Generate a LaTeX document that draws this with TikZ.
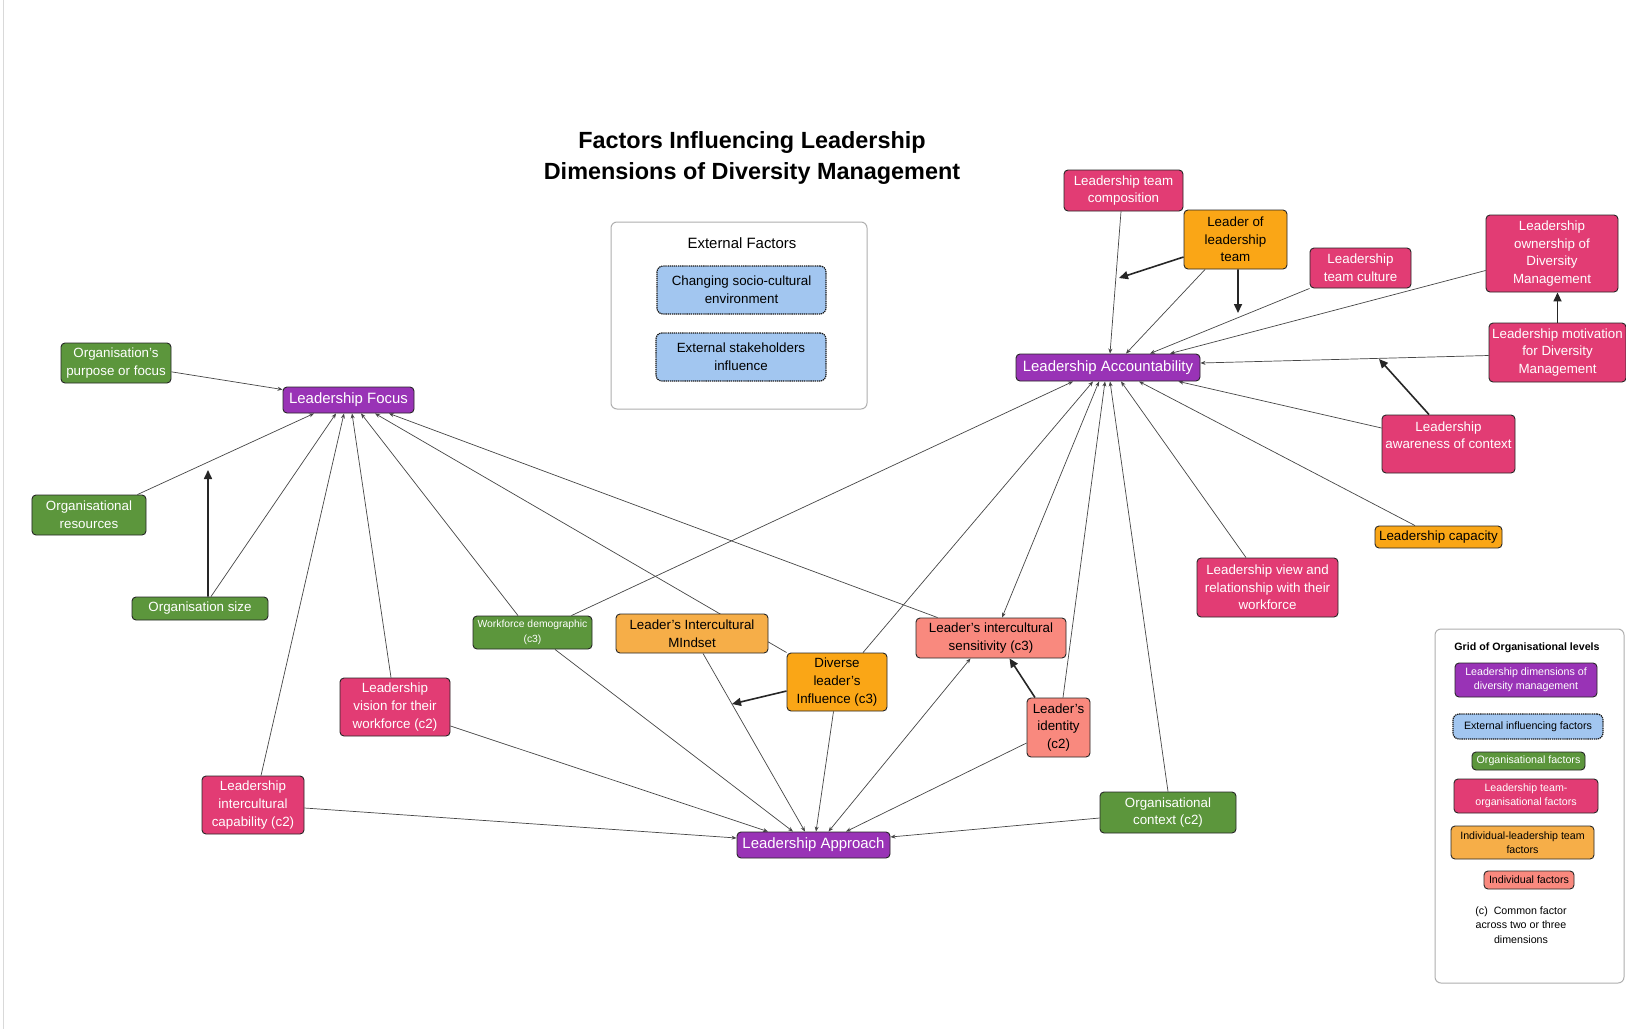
\documentclass[tikz,border=0pt]{standalone}
\usepackage{fontspec}
\setmainfont{Liberation Sans}
\usetikzlibrary{arrows.meta,backgrounds}

\definecolor{cPurple}{RGB}{153,51,182}
\definecolor{cPink}{RGB}{226,60,116}
\definecolor{cGreen}{RGB}{92,150,60}
\definecolor{cOrange}{RGB}{250,166,22}
\definecolor{cOrangeL}{RGB}{246,174,72}
\definecolor{cSalmon}{RGB}{249,137,126}
\definecolor{cBlue}{RGB}{162,198,240}
\definecolor{cLine}{RGB}{70,70,70}
\definecolor{cFrame}{RGB}{175,175,175}

\newcommand\fnode{\fontsize{13.4}{17.7}\selectfont}
\newcommand\fdim{\fontsize{15}{18}\selectfont}
\newcommand\fleg{\fontsize{10.7}{14.5}\selectfont}
\newcommand\fwork{\fontsize{10.4}{14.5}\selectfont}

\tikzset{
  box/.style={draw=black!85, line width=0.9bp, rounded corners=4bp, align=center, inner sep=0pt},
  dims/.style 2 args={minimum width=#1bp, minimum height=#2bp},
  dimbox/.style={box, fill=cPurple, text=white, font=\fdim},
  orgbox/.style={box, fill=cGreen, text=white, font=\fnode},
  teambox/.style={box, fill=cPink, text=white, font=\fnode},
  indteam/.style={box, fill=cOrange, text=black, font=\fnode},
  indteamL/.style={box, fill=cOrangeL, text=black, font=\fnode},
  indbox/.style={box, fill=cSalmon, text=black, font=\fnode},
  extbox/.style={box, fill=cBlue, text=black, font=\fnode, rounded corners=6bp,
    draw=black!90, line width=1.2bp, dash pattern=on 1.3bp off 0.8bp},
  frame/.style={draw=cFrame, line width=1bp, rounded corners=6bp, inner sep=0pt},
  link/.style={draw=cLine, line width=0.7bp, -{Stealth[length=5bp,width=4bp]}},
  linkboth/.style={draw=cLine, line width=0.7bp, {Stealth[length=5bp,width=4bp]}-{Stealth[length=5bp,width=4bp]}},
  strong/.style={draw=black!85, line width=1.6bp, -{Triangle[length=9bp,width=8bp]}},
}

\begin{document}
\begin{tikzpicture}[x=1bp,y=-1bp]
\useasboundingbox (0,0) rectangle (1626,1029);

% title
\node[align=center, font=\fontsize{23.5}{31.5}\bfseries] (title) at (752,158)
  {Factors Influencing Leadership\\Dimensions of Diversity Management};

% external factors group
\node[frame, dims={256}{187}] (extframe) at (739,315.5) {};
\node[font=\fontsize{15}{18}\selectfont] (exttitle) at (742,243) {External Factors};
\node[extbox, dims={169}{48}] (socio) at (741.5,290) {Changing socio-cultural\\environment};
\node[extbox, dims={170}{48}] (stake) at (741,357) {External stakeholders\\influence};

% leadership dimensions
\node[dimbox, dims={131}{26}] (focus) at (348.5,400) {Leadership Focus};
\node[dimbox, dims={184}{27}] (acc) at (1108,367.5) {Leadership Accountability};
\node[dimbox, dims={153}{26}] (appr) at (813.5,845) {Leadership Approach};

% organisational factors
\node[orgbox, dims={110}{40}] (purpose) at (116,363) {Organisation's\\purpose or focus};
\node[orgbox, dims={114}{40}] (resources) at (89,515) {Organisational\\resources};
\node[orgbox, dims={136}{23}] (size) at (200,608.5) {Organisation size};
\node[orgbox, dims={119}{33}, font=\fwork] (workforce) at (532.5,632.5) {Workforce demographic\\(c3)};
\node[orgbox, dims={136}{41}] (orgctx) at (1168,812.5) {Organisational\\context (c2)};

% leadership team-organisational factors
\node[teambox, dims={119}{41}] (composition) at (1123.5,190.5) {Leadership team\\composition};
\node[teambox, dims={101}{40}] (culture) at (1360.5,268) {Leadership\\team culture};
\node[teambox, dims={132}{77}] (ownership) at (1552,253.5) {Leadership\\ownership of\\Diversity\\Management};
\node[teambox, dims={137}{59}] (motivation) at (1557.5,352.5) {Leadership motivation\\for Diversity\\Management};
\node[teambox, dims={133}{58}] (awareness) at (1448.5,444) {Leadership\\awareness of context\\~};
\node[teambox, dims={141}{59}] (view) at (1267.5,587.5) {Leadership view and\\relationship with their\\workforce};
\node[teambox, dims={102}{58}] (capability) at (253,805) {Leadership\\intercultural\\capability (c2)};
\node[teambox, dims={110}{58}] (vision) at (395,707) {Leadership\\vision for their\\workforce (c2)};

% individual-leadership team factors
\node[indteam, dims={103}{59}] (leaderteam) at (1235.5,239.5) {Leader of\\leadership\\team};
\node[indteam, dims={127}{22}] (capacity) at (1438.5,537) {Leadership capacity};
\node[indteam, dims={100}{58}] (diverse) at (837,682) {Diverse\\leader's\\Influence (c3)};
\node[indteamL, dims={152}{39}] (mindset) at (692,633.5) {Leader's Intercultural\\MIndset};

% individual factors
\node[indbox, dims={150}{40}] (sensitivity) at (991,638) {Leader's intercultural\\sensitivity (c3)};
\node[indbox, dims={63}{59}] (identity) at (1058.5,727.5) {Leader's\\identity\\(c2)};

% free ends of the emphasised arrows
\coordinate (szA) at (208,470);
\coordinate (ltA) at (1119,278);
\coordinate (ltB) at (1238,313);
\coordinate (awA) at (1379,359);
\coordinate (dvA) at (732,704);

% legend
\node[frame, dims={189}{354}] (legend) at (1529.5,806) {};
\node[font=\fleg\bfseries] (legtitle) at (1527,648) {Grid of Organisational levels};
\node[dimbox, font=\fleg, dims={142}{34}] (lg1) at (1526,680) {Leadership dimensions of\\diversity management};
\node[extbox, font=\fleg, dims={150}{25}] (lg2) at (1528,726.5) {External influencing factors};
\node[orgbox, font=\fleg, dims={113}{18}] (lg3) at (1528.5,761) {Organisational factors};
\node[teambox, font=\fleg, dims={144}{34}] (lg4) at (1526,796) {Leadership team-\\organisational factors};
\node[indteamL, font=\fleg, dims={143}{33}] (lg5) at (1522.5,842.5) {Individual-leadership team\\factors};
\node[indbox, font=\fleg, dims={90}{18}] (lg6) at (1529,880) {Individual factors};
\node[align=center, font=\fleg] (lgnote) at (1521,925) {(c)\ \ Common factor\\across two or three\\dimensions};

\begin{pgfonlayer}{background}
\fill[white] (0,0) rectangle (1626,1029);
\draw[gray!30, line width=0.8bp] (3,0) -- (3,1029);

% into Leadership Focus
\draw[link] (purpose) -- (focus);
\draw[link] ([xshift=-9bp]resources.north east) -- ([xshift=-34.5bp]focus.south);
\draw[link] ([xshift=11bp]size.north) -- ([xshift=-12.5bp]focus.south);
\draw[link] ([xshift=8bp]capability.north) -- ([xshift=-4.5bp]focus.south);
\draw[link] ([xshift=-4bp]vision.north) -- ([xshift=3.5bp]focus.south);
\draw[link] ([xshift=-14.5bp]workforce.north) -- ([xshift=12.5bp]focus.south);
\draw[link] (diverse.north west) -- ([xshift=26.5bp]focus.south);
\draw[link] ([xshift=22bp]sensitivity.north west) -- ([xshift=40.5bp]focus.south);

% into Leadership Accountability
\draw[link] ([xshift=-2.5bp]composition.south) -- ([xshift=2bp]acc.north);
\draw[link] ([xshift=21.5bp]leaderteam.south west) -- ([xshift=18bp]acc.north);
\draw[link] (culture.south west) -- ([xshift=42bp]acc.north);
\draw[link] ([yshift=-17bp]ownership.west) -- ([xshift=62bp]acc.north);
\draw[link] ([yshift=-3bp]motivation.west) -- ([yshift=4.5bp]acc.east);
\draw[link] ([yshift=16bp]awareness.west) -- ([xshift=-22bp]acc.south east);
\draw[link] ([xshift=-21bp]workforce.north east) -- ([xshift=-35bp]acc.south);
\draw[link] ([xshift=26bp]diverse.north) -- ([xshift=-15bp]acc.south);
\draw[linkboth] ([xshift=11bp]sensitivity.north) -- ([xshift=-9bp]acc.south);
\draw[link] ([xshift=4.5bp]identity.north) -- ([xshift=-3bp]acc.south);
\draw[link] (orgctx.north) -- ([xshift=2bp]acc.south);
\draw[link] ([xshift=-21.5bp]view.north) -- ([xshift=13bp]acc.south);
\draw[link] ([xshift=-23.5bp]capacity.north) -- ([xshift=31bp]acc.south);

% into Leadership Approach
\draw[link] ([yshift=-3bp]capability.east) -- ([yshift=7bp]appr.west);
\draw[link] ([yshift=-19bp]vision.east) -- ([xshift=-45.5bp]appr.north);
\draw[link] ([xshift=22.5bp]workforce.south) -- ([xshift=-20.5bp]appr.north);
\draw[link] ([xshift=11bp]mindset.south) -- ([xshift=-8.5bp]appr.north);
\draw[link] ([xshift=-3.5bp]diverse.south) -- ([xshift=2.5bp]appr.north);
\draw[linkboth] ([xshift=-20.5bp]sensitivity.south) -- ([xshift=15bp]appr.north);
\draw[link] ([yshift=-15.5bp]identity.west) -- ([xshift=32.5bp]appr.north);
\draw[link] ([yshift=-5.5bp]orgctx.west) -- ([yshift=8bp]appr.east);
\end{pgfonlayer}

% emphasised arrows
\draw[strong] ([xshift=8bp]size.north) -- (szA);
\draw[strong] ([yshift=-17.5bp]leaderteam.west) -- (ltA);
\draw[strong] ([xshift=2.5bp]leaderteam.south) -- (ltB);
\draw[strong] (motivation.north) -- (motivation.north |- ownership.south);
\draw[strong] ([xshift=-19.5bp]awareness.north) -- (awA);
\draw[strong] ([xshift=-23.5bp]identity.north) -- ([xshift=18.5bp]sensitivity.south);
\draw[strong] ([yshift=-9bp]diverse.west) -- (dvA);
\end{tikzpicture}
\end{document}
